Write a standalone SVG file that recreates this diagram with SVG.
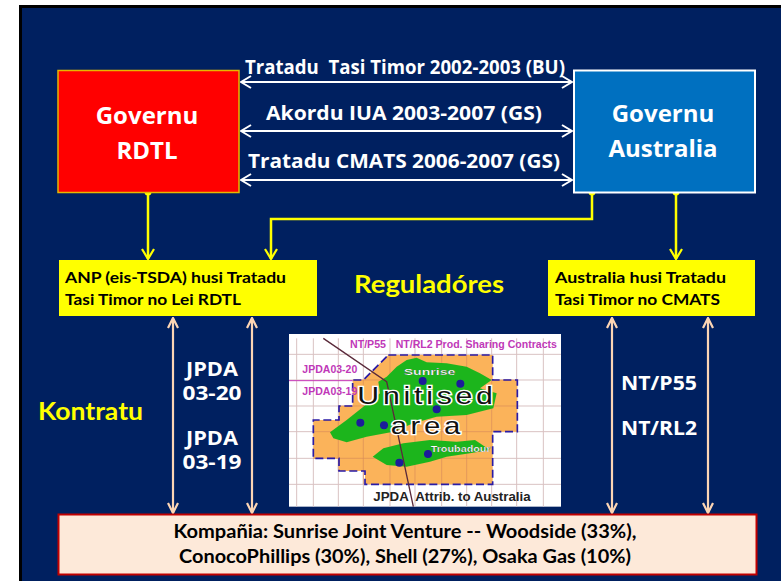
<svg xmlns="http://www.w3.org/2000/svg" width="781" height="581" viewBox="0 0 781 581">
<style>
.t{font-family:"Open Sans","Liberation Sans",sans-serif;font-weight:700}
.c{font-family:Lato,"Liberation Sans",sans-serif;font-weight:700}
.m{font-family:"Liberation Sans",Arial,sans-serif;font-weight:700}
.w{stroke:#fff;stroke-width:2;fill:none}
.y{stroke:#ff0;stroke-width:2.500;fill:none}
.p{stroke:#fcd5b4;stroke-width:2.200;fill:none}
</style>
<defs>
<marker id="aw" viewBox="0 0 12 14" refX="11" refY="7" markerWidth="12" markerHeight="14" markerUnits="userSpaceOnUse" orient="auto-start-reverse"><path d="M1 1L11 7L1 13" fill="none" stroke="#fff" stroke-width="2"/></marker>
<marker id="ay" viewBox="0 0 12 14" refX="11" refY="7" markerWidth="12" markerHeight="14" markerUnits="userSpaceOnUse" orient="auto"><path d="M1 1L11 7L1 13" fill="none" stroke="#ff0" stroke-width="2.200"/></marker>
<marker id="ap" viewBox="0 0 12 12" refX="11" refY="6" markerWidth="12" markerHeight="12" markerUnits="userSpaceOnUse" orient="auto-start-reverse"><path d="M1 1L11 6L1 11" fill="none" stroke="#fcd5b4" stroke-width="2.200"/></marker>
<filter id="b" x="-5%" y="-5%" width="110%" height="110%"><feGaussianBlur stdDeviation="1.5"/></filter>
</defs>
<rect width="781" height="581" fill="#fff"/>
<rect x="19" y="5" width="762" height="576" fill="#000"/>
<rect x="22" y="8" width="759" height="573" fill="#002060"/>

<g id="connectors">
<path class="w" d="M241 82H572" marker-start="url(#aw)" marker-end="url(#aw)"/>
<path class="w" d="M241 131H572" marker-start="url(#aw)" marker-end="url(#aw)"/>
<path class="w" d="M241 180H572" marker-start="url(#aw)" marker-end="url(#aw)"/>
<path class="y" d="M148 193V259" marker-end="url(#ay)"/>
<path class="y" d="M592 193V219H271V259" marker-end="url(#ay)"/>
<path class="y" d="M676 193V259" marker-end="url(#ay)"/>
<circle cx="148" cy="192" r="3.500" fill="#ff0"/>
<circle cx="592" cy="192" r="3.500" fill="#ff0"/>
<circle cx="676" cy="192" r="3.500" fill="#ff0"/>
<path class="p" d="M173 318V513" marker-start="url(#ap)" marker-end="url(#ap)"/>
<path class="p" d="M252 318V513" marker-start="url(#ap)" marker-end="url(#ap)"/>
<path class="p" d="M612 318V513" marker-start="url(#ap)" marker-end="url(#ap)"/>
<path class="p" d="M708 318V513" marker-start="url(#ap)" marker-end="url(#ap)"/>
</g>

<text class="t" x="405" y="74" font-size="19" fill="#fff" text-anchor="middle" textLength="320" lengthAdjust="spacingAndGlyphs" xml:space="preserve">Tratadu  Tasi Timor 2002-2003 (BU)</text>
<text class="t" x="404" y="120" font-size="19" fill="#fff" text-anchor="middle" textLength="276" lengthAdjust="spacingAndGlyphs">Akordu IUA 2003-2007 (GS)</text>
<text class="t" x="404" y="168" font-size="19" fill="#fff" text-anchor="middle" textLength="312" lengthAdjust="spacingAndGlyphs">Tratadu CMATS 2006-2007 (GS)</text>

<g id="governu-rdtl">
<rect x="58" y="70.500" width="181" height="122" fill="#f00" stroke="#e6b800" stroke-width="1.500"/>
<text class="t" x="147" y="124" font-size="24" fill="#fff" text-anchor="middle">Governu</text>
<text class="t" x="147" y="159" font-size="24" fill="#fff" text-anchor="middle">RDTL</text>
</g>
<g id="governu-australia">
<rect x="574" y="70.500" width="181" height="122" fill="#0070c0" stroke="#fff" stroke-width="2"/>
<text class="t" x="663" y="122" font-size="24" fill="#fff" text-anchor="middle">Governu</text>
<text class="t" x="663" y="157" font-size="24" fill="#fff" text-anchor="middle">Australia</text>
</g>
<g id="anp">
<rect x="59" y="260" width="258" height="56" fill="#ff0"/>
<text class="c" x="65" y="283" font-size="16" fill="#000" textLength="221" lengthAdjust="spacingAndGlyphs">ANP (eis-TSDA) husi Tratadu</text>
<text class="c" x="65" y="305" font-size="16" fill="#000" textLength="176" lengthAdjust="spacingAndGlyphs">Tasi Timor no Lei RDTL</text>
</g>
<g id="australia-regulator">
<rect x="548" y="260" width="207" height="56" fill="#ff0"/>
<text class="c" x="555" y="283" font-size="16" fill="#000" textLength="171" lengthAdjust="spacingAndGlyphs">Australia husi Tratadu</text>
<text class="c" x="555" y="305" font-size="16" fill="#000" textLength="165" lengthAdjust="spacingAndGlyphs">Tasi Timor no CMATS</text>
</g>
<text class="c" x="429" y="293" font-size="25" fill="#ff0" text-anchor="middle" textLength="150" lengthAdjust="spacingAndGlyphs">Reguladóres</text>
<text class="c" x="38" y="420" font-size="24" fill="#ff0" textLength="105" lengthAdjust="spacingAndGlyphs">Kontratu</text>

<g class="t" font-size="19" fill="#fff" text-anchor="middle">
<text x="212" y="376" textLength="52" lengthAdjust="spacingAndGlyphs">JPDA</text>
<text x="212" y="400" textLength="59" lengthAdjust="spacingAndGlyphs">03-20</text>
<text x="212" y="445" textLength="52" lengthAdjust="spacingAndGlyphs">JPDA</text>
<text x="212" y="469" textLength="59" lengthAdjust="spacingAndGlyphs">03-19</text>
<text x="659" y="390" textLength="76" lengthAdjust="spacingAndGlyphs">NT/P55</text>
<text x="659" y="435" textLength="76" lengthAdjust="spacingAndGlyphs">NT/RL2</text>
</g>

<g id="map" transform="translate(280 325) scale(.33333)">
<rect x="27" y="27" width="816" height="518" fill="#fff"/>
<g filter="url(#b)">
<path d="M100 40V545M175 40V545M250 40V545M330 40V545M405 40V545M485 40V545M560 40V545M635 40V545M710 40V545M790 40V545M50 40V545M27 88H843M27 165H843M27 243H843M27 320H843M27 400H843M27 478H843" stroke="#d9c2c2" stroke-width="3" fill="none"/>
<path d="M325 90H638V165H712V320H638V478H255V438H177V400H100V285H177V243H218V165H250Z" fill="#fbb35a"/>
<path d="M100 320H638M177 243H712M218 165H712M100 400H638M175 285V438M250 165V478M330 90V478M405 90V478M485 90V478M560 90V478M635 165V320" stroke="#d98c5a" stroke-width="2" fill="none"/>
<path d="M150 322L200 285L250 245L300 205L295 170L320 155L350 125L380 105L410 98L440 112L500 115L560 125L600 145L635 165L600 190L650 205L640 250L560 270L470 275L400 295L340 320L260 335L200 352L160 340Z" fill="#1fb51f"/>
<path d="M278 395L310 370L370 355L450 345L530 350L585 345L630 375L570 385L500 395L450 410L380 425L320 420Z" fill="#1fb51f"/>
<path d="M325 90H638V165H712V320H638V478H255V438H177V400H100V285H177V243H218V165H250Z" fill="none" stroke="#2a1aa5" stroke-width="5" stroke-dasharray="24 11"/>
<path d="M27 167H218" stroke="#c838b8" stroke-width="3"/>
<path d="M130 40L320 170L400 545" fill="none" stroke="#5a2a3a" stroke-width="4"/>
<g fill="#1a1a9a"><circle cx="428" cy="168" r="12"/><circle cx="541" cy="176" r="12"/><circle cx="470" cy="253" r="12"/><circle cx="241" cy="293" r="12"/><circle cx="312" cy="301" r="12"/><circle cx="444" cy="387" r="12"/><circle cx="358" cy="413" r="12"/></g>
</g>
<g class="m">
<g fill="#c038b8" font-size="30">
<text x="210" y="70" textLength="108" lengthAdjust="spacingAndGlyphs">NT/P55</text>
<text x="347" y="70" textLength="484" lengthAdjust="spacingAndGlyphs">NT/RL2 Prod. Sharing Contracts</text>
<text x="67" y="143" textLength="165" lengthAdjust="spacingAndGlyphs">JPDA03-20</text>
<text x="67" y="211" textLength="165" lengthAdjust="spacingAndGlyphs">JPDA03-19</text>
</g>
<text x="371" y="151" font-size="29" fill="#fff" stroke="#333" stroke-width=".6" textLength="155" lengthAdjust="spacingAndGlyphs">Sunrise</text>
<text x="452" y="381" font-size="25" fill="#fff" stroke="#333" stroke-width=".6" textLength="180" lengthAdjust="spacingAndGlyphs">Troubadour</text>
<text x="232" y="238" font-size="72" font-weight="400" letter-spacing="9" fill="#111" stroke="#fff" stroke-width="8" paint-order="stroke" textLength="418" lengthAdjust="spacingAndGlyphs">Unitised</text>
<text x="332" y="328" font-size="72" font-weight="400" letter-spacing="9" fill="#111" stroke="#fff" stroke-width="8" paint-order="stroke" textLength="220" lengthAdjust="spacingAndGlyphs">area</text>
<text x="280" y="527" font-size="36" fill="#222" textLength="472" lengthAdjust="spacingAndGlyphs" xml:space="preserve">JPDA  Attrib. to Australia</text>
</g>
</g>

<g id="kompania">
<rect x="58.500" y="514.500" width="698" height="60" fill="#fde9d9" stroke="#c00000" stroke-width="2"/>
<text class="c" x="405" y="538" font-size="19" fill="#000" text-anchor="middle" textLength="463" lengthAdjust="spacingAndGlyphs">Kompañia: Sunrise Joint Venture -- Woodside (33%),</text>
<text class="c" x="405" y="563" font-size="19" fill="#000" text-anchor="middle" textLength="452" lengthAdjust="spacingAndGlyphs">ConocoPhillips (30%), Shell (27%), Osaka Gas (10%)</text>
</g>
</svg>
